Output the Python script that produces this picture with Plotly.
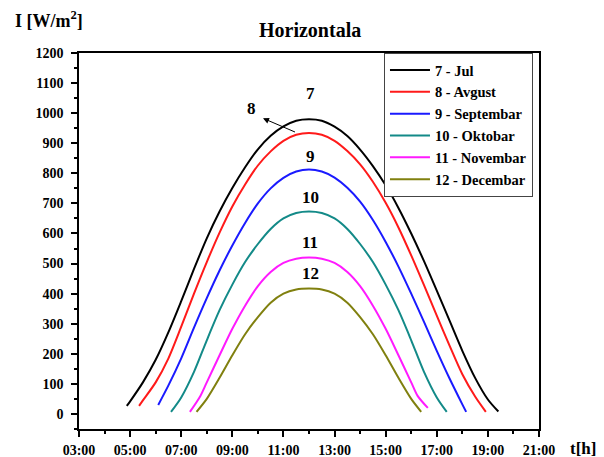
import plotly.graph_objects as go

# ---- data (time in decimal hours, irradiance in W/m2) ----
jul_t = [4.87, 5.0, 5.5, 6, 6.5, 7, 7.5, 8, 8.5, 9, 9.5, 10, 10.5, 11, 11.5, 12,
         12.5, 13, 13.5, 14, 14.5, 15, 15.5, 16, 16.5, 17, 17.5, 18, 18.5, 19, 19.41]
jul_i = [27, 42, 105, 180, 272, 375, 482, 584, 673, 751, 820, 880, 925, 956, 975, 980,
         975, 955, 924, 879, 824, 760, 685, 600, 508, 410, 310, 210, 120, 48, 8]

avg_t = [5.35, 5.5, 6, 6.5, 7, 7.5, 8, 8.5, 9, 9.5, 10, 10.5, 11, 11.5, 12,
         12.5, 13, 13.5, 14, 14.5, 15, 15.5, 16, 16.5, 17, 17.5, 18, 18.5, 18.92]
avg_i = [27, 45, 105, 185, 290, 400, 505, 603, 690, 763, 826, 873, 908, 928, 934,
         928, 908, 874, 830, 772, 702, 620, 527, 428, 327, 227, 132, 58, 7]

sep_t = [6.1, 6.5, 7, 7.5, 8, 8.5, 9, 9.5, 10, 10.5, 11, 11.5, 12,
         12.5, 13, 13.5, 14, 14.5, 15, 15.5, 16, 16.5, 17, 17.5, 18, 18.15]
sep_i = [30, 95, 185, 287, 385, 477, 560, 635, 700, 750, 785, 806, 813,
         806, 786, 752, 706, 645, 572, 490, 400, 306, 210, 118, 32, 7]

okt_t = [6.6, 7, 7.5, 8, 8.5, 9, 9.5, 10, 10.5, 11, 11.5, 12,
         12.5, 13, 13.5, 14, 14.5, 15, 15.5, 16, 16.5, 17, 17.39]
okt_i = [7, 55, 140, 245, 345, 430, 505, 565, 615, 650, 668, 673,
         668, 650, 615, 565, 505, 430, 345, 245, 140, 55, 7]

nov_t = [7.34, 7.75, 8, 8.5, 9, 9.5, 10, 10.5, 11, 11.5, 12,
         12.5, 13, 13.5, 14, 14.5, 15, 15.5, 16, 16.25, 16.65]
nov_i = [7, 60, 105, 195, 283, 360, 425, 472, 502, 516, 520,
         516, 502, 472, 425, 360, 283, 195, 105, 60, 20]

dec_t = [7.6, 8, 8.5, 9, 9.5, 10, 10.5, 11, 11.5, 12,
         12.5, 13, 13.5, 14, 14.5, 15, 15.5, 16, 16.39]
dec_i = [7, 50, 120, 195, 265, 322, 370, 400, 414, 417,
         414, 400, 370, 322, 265, 195, 120, 50, 7]

series_names = ["7 - Jul", "8 - Avgust", "9 - Septembar", "10 - Oktobar", "11 - Novembar", "12 - Decembar"]
series_colors = ["#000000", "#ff1a1a", "#1a1aff", "#138a88", "#ff1aff", "#80800f"]

x_tickvals = [3, 5, 7, 9, 11, 13, 15, 17, 19, 21]
x_ticktext = ["03:00", "05:00", "07:00", "09:00", "11:00", "13:00", "15:00", "17:00", "19:00", "21:00"]

curve_labels = ["7", "9", "10", "11", "12"]
curve_label_x = [12.04, 12.04, 12.04, 12.04, 12.04]
curve_label_y = [1067, 857, 720, 570, 467]

FONT = "Liberation Serif"

fig = go.Figure()
all_t = [jul_t, avg_t, sep_t, okt_t, nov_t, dec_t]
all_i = [jul_i, avg_i, sep_i, okt_i, nov_i, dec_i]
for t, v, name, col in zip(all_t, all_i, series_names, series_colors):
    fig.add_trace(go.Scatter(
        x=t, y=v, mode="lines", name=name,
        line=dict(color=col, width=2, shape="spline", smoothing=0.8),
    ))

annotations = []
for lab, lx, ly in zip(curve_labels, curve_label_x, curve_label_y):
    annotations.append(dict(x=lx, y=ly, xref="x", yref="y", text="<b>%s</b>" % lab,
                            showarrow=False, font=dict(family=FONT, size=17, color="black")))
# label 8 with arrow
annotations.append(dict(x=9.76, y=1017, xref="x", yref="y", text="<b>8</b>",
                        showarrow=False, font=dict(family=FONT, size=17, color="black")))
annotations.append(dict(x=10.2, y=983, ax=11.57, ay=933, xref="x", yref="y", axref="x", ayref="y",
                        text=" ", showarrow=True, arrowhead=2, arrowsize=1.2, arrowwidth=1,
                        arrowcolor="black", standoff=0, startstandoff=0))
# title and axis labels
annotations.append(dict(x=0.503, y=1.061, xref="paper", yref="paper", text="<b>Horizontala</b>",
                        showarrow=False, xanchor="center", yanchor="middle",
                        font=dict(family=FONT, size=20, color="black")))
annotations.append(dict(x=-0.1435, y=1.088, xref="paper", yref="paper",
                        text="<b>I [W/m<sup>2</sup>]</b>",
                        showarrow=False, xanchor="left", yanchor="middle",
                        font=dict(family=FONT, size=18, color="black")))
annotations.append(dict(x=1.063, y=-0.053, xref="paper", yref="paper", text="<b>t[h]</b>",
                        showarrow=False, xanchor="left", yanchor="middle",
                        font=dict(family=FONT, size=17, color="black")))

fig.update_layout(
    width=604, height=457,
    margin=dict(l=79, r=65, t=53, b=28, autoexpand=False),
    paper_bgcolor="white", plot_bgcolor="white",
    showlegend=True,
    legend=dict(x=0.663, y=1.0, xanchor="left", yanchor="top",
                bgcolor="white", bordercolor="#444444", borderwidth=1,
                font=dict(family=FONT, size=14.5, color="black", weight="bold"),
                tracegroupgap=0, itemwidth=40),
    annotations=annotations,
    font=dict(family=FONT, color="black"),
)

fig.update_xaxes(
    range=[3, 21], tickmode="array", tickvals=x_tickvals, ticktext=x_ticktext,
    showgrid=False, zeroline=False, showline=True, linecolor="black", linewidth=1.5,
    mirror=True, ticks="outside", ticklen=6, tickwidth=1.5, tickcolor="black",
    tickfont=dict(family=FONT, size=14, color="black", weight="bold"),
    ticklabelstandoff=1, automargin=False,
    minor=dict(tickmode="linear", tick0=3, dtick=1, ticks="outside", ticklen=3, tickwidth=1.5, tickcolor="black"),
)
fig.update_yaxes(
    range=[-50, 1200], tickmode="linear", tick0=0, dtick=100,
    showgrid=False, zeroline=False, showline=True, linecolor="black", linewidth=1.5,
    mirror=True, ticks="outside", ticklen=6, tickwidth=1.5, tickcolor="black",
    tickfont=dict(family=FONT, size=14, color="black", weight="bold"),
    ticklabelstandoff=5, automargin=False,
    minor=dict(tickmode="linear", tick0=0, dtick=50, ticks="outside", ticklen=3, tickwidth=1.5, tickcolor="black"),
)

fig.write_html("out.html", config={"displayModeBar": False},
               post_script="document.body.style.margin='0';")
